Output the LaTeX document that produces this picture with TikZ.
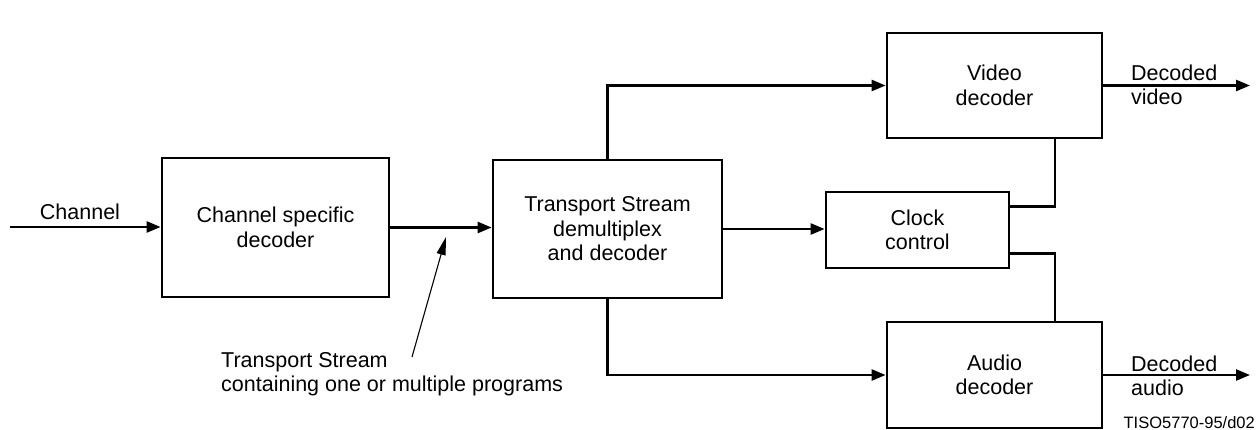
\documentclass[tikz,border=0pt]{standalone}
\usepackage{fontspec}
\setmainfont{Liberation Sans}
\usepackage{tikz}
\usetikzlibrary{arrows.meta,positioning,calc}

\begin{document}
\begin{tikzpicture}[x=1pt, y=-1pt,
    block/.style={rectangle, draw=black, line width=2.8pt, inner sep=0pt,
        font={\fontsize{21.5pt}{24.5pt}\selectfont}, align=center},
    tag/.style={font={\fontsize{21.5pt}{24.5pt}\selectfont}, align=left, inner sep=0pt},
    flow/.style={-{Triangle[length=14pt,width=11pt]}, line width=2.5pt},
    link/.style={line width=2.5pt},
    pointer/.style={-{Triangle[length=18pt,width=9pt]}, line width=1.1pt}
]
\useasboundingbox (0,0) rectangle (1257,430);

\node[block, minimum width=227pt, minimum height=139pt] (csd) at (275.5,227.5) {Channel specific\\decoder};
\node[block, minimum width=229pt, minimum height=138pt] (demux) at (607.5,229) {Transport Stream\\demultiplex\\and decoder};
\node[block, minimum width=183pt, minimum height=76pt] (clock) at (917.5,230) {Clock\\control};
\node[block, minimum width=215pt, minimum height=105pt] (video) at (994.5,85.5) {Video\\decoder};
\node[block, minimum width=215pt, minimum height=106pt] (audio) at (994.5,375) {Audio\\decoder};

\node[tag] (chlabel) at (80,212) {Channel};
\node[tag, anchor=west] (vlabel) at (1131,85) {Decoded\\video};
\node[tag, anchor=west] (alabel) at (1131,376) {Decoded\\audio};
\node[tag, anchor=west] (tsnote) at (221,374) {Transport Stream\\containing one or multiple programs};
\node[font={\fontsize{16.5pt}{18pt}\selectfont}, inner sep=0pt, anchor=east] (figid) at (1255,423) {TISO5770-95/d02};

\coordinate (chin) at (10,227);
\coordinate (vout) at (1250,85.5);
\coordinate (aout) at (1250,375);
\coordinate (tstail) at (412,357);
\coordinate (tshead) at (446,237);
\coordinate (clkhi) at ($(clock.north east)!0.2!(clock.south east)$);
\coordinate (clklo) at ($(clock.north east)!0.8!(clock.south east)$);

\draw[flow] (chin) -- (chin -| csd.west);
\draw[flow] (csd.east) -- (csd.east -| demux.west);
\draw[flow] (demux.east) -- (demux.east -| clock.west);
\draw[flow] (demux.north) |- (video.west);
\draw[flow] (demux.south) |- (audio.west);
\draw[link] (clkhi) -| ([xshift=60.5pt]video.south);
\draw[link] (clklo) -| ([xshift=60.5pt]audio.north);
\draw[flow] (video.east) -- (vout);
\draw[flow] (audio.east) -- (aout);
\draw[pointer] (tstail) -- (tshead);

\end{tikzpicture}
\end{document}
